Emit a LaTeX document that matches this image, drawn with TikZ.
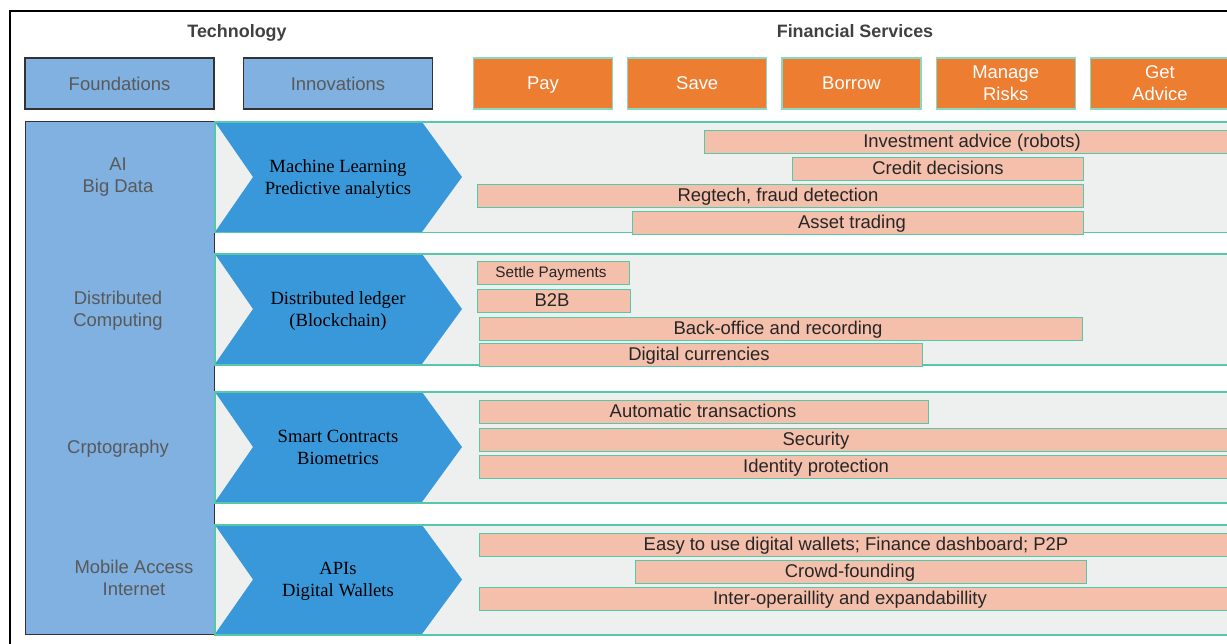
\documentclass[tikz,border=0pt]{standalone}
\usepackage{fontspec}
\setmainfont{Liberation Serif}
\setsansfont{Liberation Sans}
\usetikzlibrary{positioning}
\definecolor{FoundBlue}{HTML}{80B1E1}
\definecolor{ChevBlue}{HTML}{3898DA}
\definecolor{BandGray}{HTML}{EEF0EF}
\definecolor{EdgeTeal}{HTML}{55C8AA}
\definecolor{ServOrange}{HTML}{ED7D31}
\definecolor{BarSalmon}{HTML}{F4BFAB}
\definecolor{TextGray}{HTML}{595959}
\newcommand{\boxfont}{\sffamily\fontsize{10.5}{12.5}\selectfont}
\newcommand{\chevfont}{\rmfamily\fontsize{10.6}{12.5}\selectfont}
\tikzset{
  frame/.style={draw=black, line width=0.8pt},
  headtext/.style={text depth=0pt, font=\sffamily\bfseries\fontsize{10.2}{12}\selectfont, text=black!75},
  techbox/.style={rectangle, text depth=0pt, draw=black!80, line width=0.7pt, fill=FoundBlue, minimum width=189*0.02cm, minimum height=51*0.02cm, font=\boxfont, text=TextGray, align=center},
  servbox/.style={rectangle, text depth=0pt, draw=EdgeTeal!70, line width=0.7pt, fill=ServOrange, minimum width=139*0.02cm, minimum height=51*0.02cm, font=\boxfont, text=white, align=center},
  band/.style={rectangle, anchor=north west, fill=BandGray, inner sep=0pt, minimum width=1045*0.02cm},
  bandedge/.style={draw=EdgeTeal, line width=0.9pt},
  foundtext/.style={text depth=0pt, font=\boxfont, text=TextGray, align=center},
  chevtext/.style={text depth=0pt, font=\chevfont, text=black, align=center},
  bar/.style={rectangle, anchor=north west, draw=EdgeTeal, line width=0.7pt, fill=BarSalmon, inner sep=0pt, minimum height=23*0.02cm},
  bartext/.style={text depth=0pt, font=\boxfont, text=black!85, inner sep=0pt}
}

\begin{document}
\begin{tikzpicture}[x=0.02cm, y=-0.02cm, node distance=0.28cm]
  \useasboundingbox (0,0) rectangle (1227,643);
  \clip (0,0) rectangle (1227,643);

  % Frame and headings
  \draw[frame] (10,660) -- (10,11) -- (1260,11);
  \node[headtext] (techhead) at (237,31) {Technology};
  \node[headtext] (finhead) at (855,31) {Financial Services};

  % Top boxes
  \node[techbox] (foundations) at (119.5,83.5) {Foundations};
  \node[techbox] (innovations) at (338,83.5) {Innovations};
  \node[servbox] (pay) at (543,83.5) {Pay};
  \node[servbox, right=of pay] (save) {Save};
  \node[servbox, right=of save] (borrow) {Borrow};
  \node[servbox, right=of borrow] (risks) {Manage\\Risks};
  \node[servbox, right=of risks] (advice) {Get\\Advice};

  % Foundations column
  \node[techbox, anchor=north west, minimum height=513*0.02cm] (foundcol) at (25,121) {};

  % Rows: band, chevron, texts
  \foreach \n/\ya/\yb/\fx/\fy/\ftxt/\itxt in {1/122/232/118/175/{AI\\Big Data}/{Machine Learning\\Predictive analytics},
      2/254/364/118/309/{Distributed\\Computing}/{Distributed ledger\\(Blockchain)},
      3/392/502/118/447/{Crptography}/{Smart Contracts\\Biometrics},
      4/525/634/134/577.5/{Mobile Access\\Internet}/{APIs\\Digital Wallets}} {
    \node[band, minimum height={(\yb-\ya)*0.02cm}] (band\n) at (215,\ya) {};
    \fill[ChevBlue] (215,\ya) -- (422,\ya) -- (462,{(\ya+\yb)/2}) -- (422,\yb) -- (215,\yb) -- (253,{(\ya+\yb)/2}) -- cycle;
    \draw[bandedge] (band\n.north west) rectangle (band\n.south east);
    \node[foundtext] (found\n) at (\fx,\fy) {\ftxt};
    \node[chevtext] (innov\n) at (338,{(\ya+\yb)/2}) {\itxt};
  }

  % Service bars
  \foreach \xa/\ya/\xb/\tx/\txt [count=\k] in {704/130/1240/972/{Investment advice (robots)},
      792/157/1083/938/{Credit decisions},
      477/184/1083/778/{Regtech, fraud detection},
      632/211/1083/852/{Asset trading},
      477/289/630/552/{B2B},
      479/317/1082/778/{Back-office and recording},
      479/343/922/699/{Digital currencies},
      479/400/928/703/{Automatic transactions},
      479/428/1240/816/{Security},
      479/455/1240/816/{Identity protection},
      479/533/1240/856/{Easy to use digital wallets; Finance dashboard; P2P},
      635/560/1086/850/{Crowd-founding},
      479/587/1240/850/{Inter-operaillity and expandabillity}} {
    \node[bar, minimum width={(\xb-\xa)*0.02cm}] (bar\k) at (\xa,\ya) {};
    \node[bartext] (bartxt\k) at (\tx,\ya+11) {\txt};
  }
  \node[bar, minimum width=152*0.02cm] (settle) at (477,261) {};
  \node[bartext, font=\sffamily\fontsize{8.7}{10}\selectfont] (settletxt) at (551,272) {Settle Payments};
\end{tikzpicture}
\end{document}
